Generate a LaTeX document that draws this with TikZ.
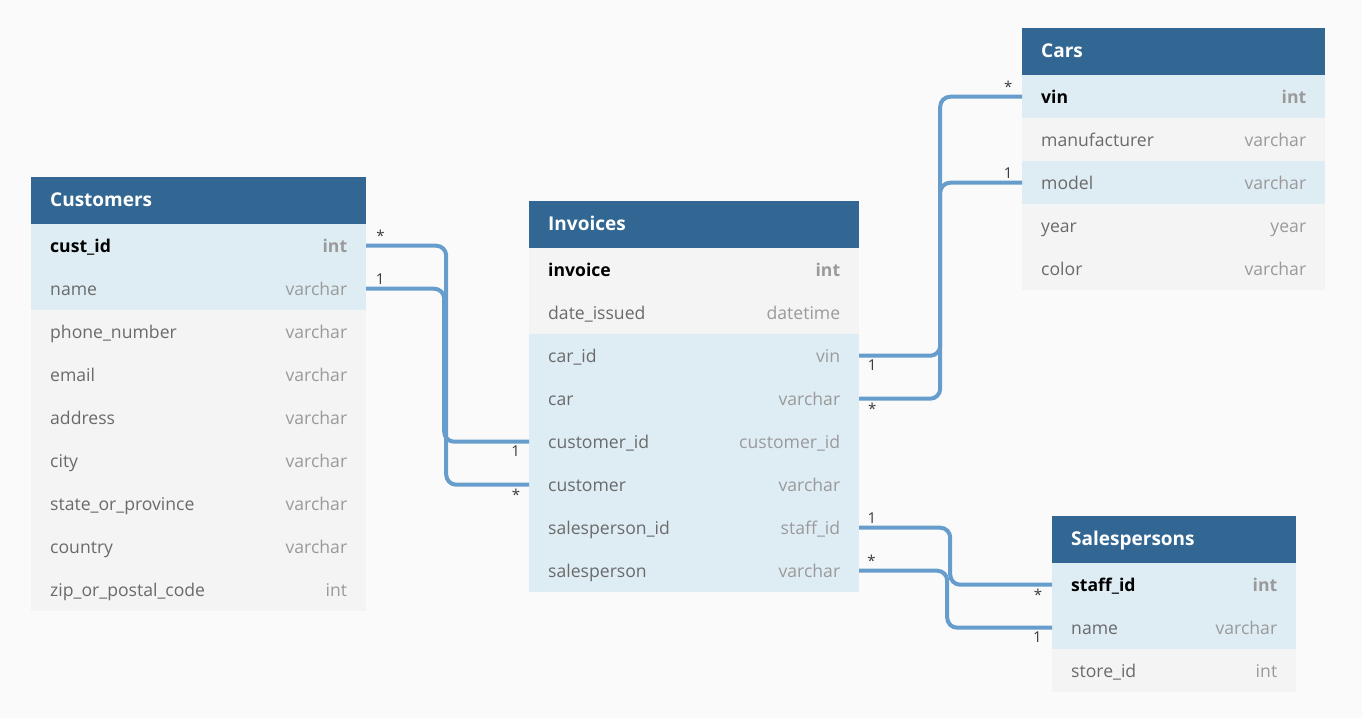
\documentclass[tikz,border=0pt]{standalone}
\usepackage{fontspec}
\setmainfont{Open Sans}
\usetikzlibrary{matrix,positioning}

\definecolor{hdrblue}{HTML}{326794}
\definecolor{rowblue}{HTML}{DEECF4}
\definecolor{rowgray}{HTML}{F4F4F4}
\definecolor{pagebg}{HTML}{FAFAFA}
\definecolor{linkblue}{HTML}{679DCC}
\definecolor{namegray}{HTML}{6A6A6A}
\definecolor{typegray}{HTML}{9A9A9A}
\definecolor{cardgray}{HTML}{3A3A3A}

\newcommand{\fieldrow}[2]{\textcolor{namegray}{#1}\hfill\textcolor{typegray}{#2}}
\newcommand{\keyrow}[2]{\textbf{#1}\hfill\textcolor{typegray}{\textbf{#2}}}

\tikzset{
  cell/.style={inner xsep=19pt, inner ysep=0pt, outer sep=0pt, minimum height=43pt,
    text height=17pt, text depth=4pt, align=left, font=\fontsize{17.6}{20}\selectfont},
  grayrow/.style={cell, fill=rowgray},
  bluerow/.style={cell, fill=rowblue},
  header/.style={cell, fill=hdrblue, minimum height=47pt, text=white,
    text height=15pt, text depth=4pt, font=\fontsize{19}{22}\selectfont\bfseries},
  ertable/.style={matrix of nodes, row sep=0pt, inner sep=0pt, anchor=north west,
    nodes={grayrow, text width=#1}},
  rel/.style={draw=linkblue, line width=4pt, rounded corners=10pt},
  card/.style={font=\fontsize{15}{17}\selectfont, text=cardgray, inner sep=2pt}
}

\begin{document}
\begin{tikzpicture}[x=1pt,y=-1pt]
\fill[pagebg] (0,0) rectangle (1362,718);
\useasboundingbox (0,0) rectangle (1362,718);

% tables
\matrix (cust) [ertable=297pt, row 1/.style={nodes=header},
  row 2/.style={nodes=bluerow}, row 3/.style={nodes=bluerow}] at (31,177)
{
Customers \\
\keyrow{cust\_id}{int} \\
\fieldrow{name}{varchar} \\
\fieldrow{phone\_number}{varchar} \\
\fieldrow{email}{varchar} \\
\fieldrow{address}{varchar} \\
\fieldrow{city}{varchar} \\
\fieldrow{state\_or\_province}{varchar} \\
\fieldrow{country}{varchar} \\
\fieldrow{zip\_or\_postal\_code}{int} \\
};

\matrix (inv) [ertable=292pt, row 1/.style={nodes=header},
  row 4/.style={nodes=bluerow}, row 5/.style={nodes=bluerow},
  row 6/.style={nodes=bluerow}, row 7/.style={nodes=bluerow},
  row 8/.style={nodes=bluerow}, row 9/.style={nodes=bluerow}] at (529,201)
{
Invoices \\
\keyrow{invoice}{int} \\
\fieldrow{date\_issued}{datetime} \\
\fieldrow{car\_id}{vin} \\
\fieldrow{car}{varchar} \\
\fieldrow{customer\_id}{customer\_id} \\
\fieldrow{customer}{varchar} \\
\fieldrow{salesperson\_id}{staff\_id} \\
\fieldrow{salesperson}{varchar} \\
};

\matrix (cars) [ertable=265pt, row 1/.style={nodes=header},
  row 2/.style={nodes=bluerow}, row 4/.style={nodes=bluerow}] at (1022,28)
{
Cars \\
\keyrow{vin}{int} \\
\fieldrow{manufacturer}{varchar} \\
\fieldrow{model}{varchar} \\
\fieldrow{year}{year} \\
\fieldrow{color}{varchar} \\
};

\matrix (sales) [ertable=206pt, row 1/.style={nodes=header},
  row 2/.style={nodes=bluerow}, row 3/.style={nodes=bluerow}] at (1052,516)
{
Salespersons \\
\keyrow{staff\_id}{int} \\
\fieldrow{name}{varchar} \\
\fieldrow{store\_id}{int} \\
};

% relations
\draw[rel] (cust-2-1.east) -- node (ca) [card, above, pos=0.18] {*} ++(80,0)
  |- node (cb) [card, below, pos=0.92] {*} (inv-7-1.west);
\draw[rel] (cust-3-1.east) -- node (cc) [card, above, pos=0.18] {1} ++(78,0)
  |- node (cd) [card, below, pos=0.92] {1} (inv-6-1.west);
\draw[rel] (inv-4-1.east) -- node (ce) [card, below, pos=0.16] {1} ++(81,0)
  |- node (cf) [card, above, pos=0.915] {1} (cars-4-1.west);
\draw[rel] (inv-5-1.east) -- node (cg) [card, below, pos=0.16] {*} ++(81,0)
  |- node (ch) [card, above, pos=0.915] {*} (cars-2-1.west);
\draw[rel] (inv-8-1.east) -- node (ci) [card, above, pos=0.14] {1} ++(91,0)
  |- node (cj) [card, below, pos=0.93] {*} (sales-2-1.west);
\draw[rel] (inv-9-1.east) -- node (ck) [card, above, pos=0.14] {*} ++(88,0)
  |- node (cl) [card, below, pos=0.93] {1} (sales-3-1.west);
\end{tikzpicture}
\end{document}
